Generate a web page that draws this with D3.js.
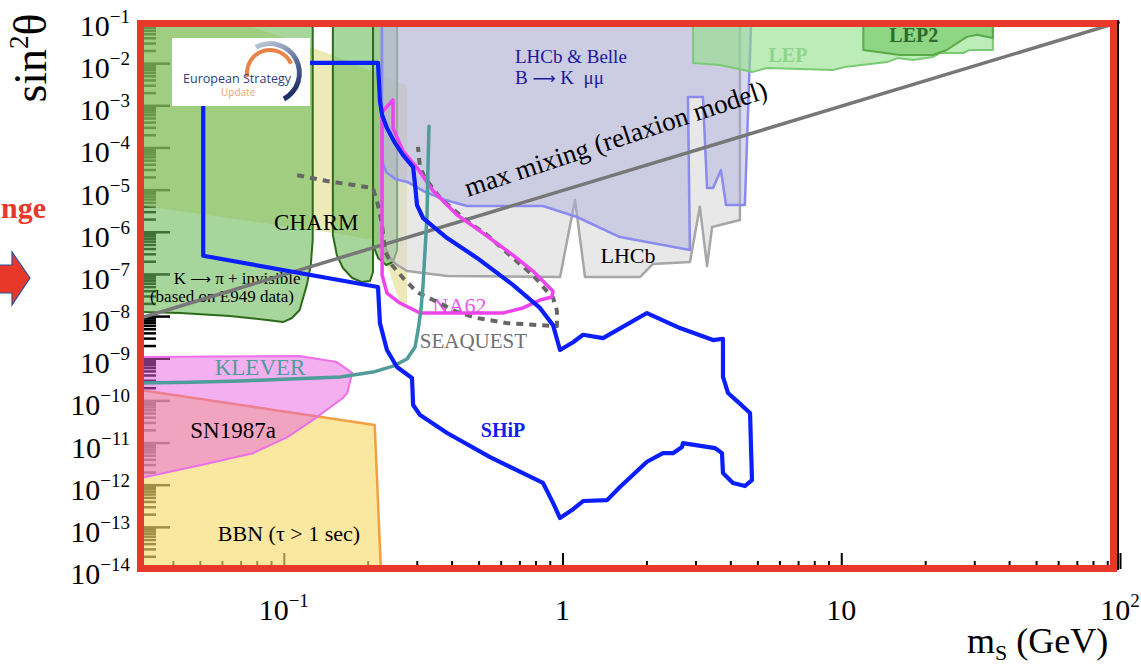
<!DOCTYPE html>
<html>
<head>
<meta charset="utf-8">
<script src="https://cdn.jsdelivr.net/npm/d3@7"></script>
<style>
  body { margin: 0; background: #fff; }
  svg { display: block; }
  text { white-space: pre; }
</style>
</head>
<body>
<svg id="chart" width="1141" height="666"></svg>
<script>
// ---- values: [scalar mass m_S in GeV, mixing sin^2(theta)] ----
const xTickValues = [0.1, 1, 10, 100];
const xTickLabels = [["10", "−1"], ["1", ""], ["10", ""], ["10", "2"]];
const yExponents = d3.range(-1, -15, -1);

const bbnRegion = [[0.03, 1.8e-10], [0.212, 2.6e-11], [0.223, 1e-14], [0.03, 1e-14]];

const sn1987aRegion = [[0.03, 1.07e-9], [0.114, 1.13e-9], [0.155, 8.1e-10], [0.176, 4.5e-10],
  [0.169, 1.5e-10], [0.163, 1.14e-10], [0.127, 3.4e-11], [0.103, 1.35e-11], [0.0776, 5.6e-12],
  [0.0501, 2.9e-12], [0.03, 1.4e-12]];

const e949Region = [[0.03, 0.1], [0.127, 0.1], [0.127, 6.4e-7], [0.125, 1.63e-7], [0.121, 5.5e-8],
  [0.114, 1.39e-8], [0.107, 9.0e-9], [0.0994, 7.2e-9], [0.0871, 8.1e-9], [0.0641, 1.0e-8],
  [0.0425, 1.18e-8], [0.03, 1.25e-8]];

const lsndRegion = [[0.03, 0.1], [0.0668, 0.1], [0.150, 1.56e-2], [0.277, 2.9e-3], [0.277, 1.83e-8],
  [0.266, 1.56e-8], [0.251, 4.2e-8], [0.231, 2.4e-7], [0.209, 6.4e-7], [0.150, 9.4e-7], [0.03, 4.3e-6]];

const charmRegion = [[0.150, 0.1], [0.150, 8.4e-7], [0.155, 2.8e-7], [0.163, 1.38e-7], [0.176, 8.0e-8],
  [0.191, 6.4e-8], [0.204, 6.8e-8], [0.209, 1.11e-7], [0.209, 0.1]];

const charmRegion2 = [[0.209, 0.1], [0.209, 4.9e-7], [0.218, 2.4e-7], [0.233, 1.63e-7],
  [0.2465, 1.92e-7], [0.255, 3.7e-7], [0.255, 0.1]];

const lhcbRegion = [[0.225, 0.1], [0.225, 6.4e-7], [0.240, 2.4e-7], [0.255, 1.63e-7], [0.277, 1.17e-7],
  [0.386, 8.9e-8], [0.98, 8.5e-8], [1.109, 5.7e-6], [1.204, 8.5e-8], [1.90, 8.5e-8], [2.11, 1.72e-7],
  [2.865, 1.92e-7], [3.11, 3.9e-6], [3.30, 1.54e-7], [3.44, 1.30e-6], [4.33, 1.90e-6], [4.33, 0.1]];

const bKmumuRegion = [[0.225, 0.1], [0.225, 5.0e-5], [0.233, 2.6e-5], [0.251, 1.79e-5], [0.277, 1.52e-5],
  [0.321, 8.8e-6], [0.379, 5.7e-6], [0.454, 4.1e-6], [0.851, 4.1e-6], [1.127, 2.24e-6], [1.607, 7.5e-7],
  [2.865, 3.7e-7], [2.818, 1.57e-3], [3.19, 1.57e-3], [3.30, 1.09e-5], [3.47, 1.09e-5], [3.70, 2.9e-5],
  [3.86, 4.3e-6], [4.51, 4.3e-6], [4.75, 0.1]];

const lepRegion = [[2.94, 0.1], [2.94, 1.01e-2], [3.67, 9.0e-3], [4.82, 6.2e-3], [5.41, 7.7e-3],
  [9.34, 6.9e-3], [10.3, 8.1e-3], [14.6, 1.06e-2], [15.9, 1.32e-2], [18.1, 1.19e-2], [21.3, 1.40e-2],
  [22.6, 1.74e-2], [27.3, 1.74e-2], [28.9, 2.05e-2], [35.0, 2.05e-2], [35.0, 0.1]];

const lep2Region = [[12.0, 0.1], [12.0, 2.05e-2], [16.25, 1.56e-2], [21.3, 1.56e-2], [23.9, 2.05e-2],
  [28.2, 4.2e-2], [30.7, 4.7e-2], [35.0, 3.95e-2], [35.0, 0.1]];

const maxMixing = [[0.03, 8.6e-9], [100, 9.5e-2]];

const seaquestReach = [[0.1117, 2.2e-5], [0.1429, 1.6e-5], [0.2089, 1.09e-5], [0.2178, 4.3e-6],
  [0.2253, 1.45e-6], [0.2307, 3.5e-7], [0.2443, 1.63e-7], [0.2679, 8.0e-8], [0.3006, 3.7e-8],
  [0.3436, 2.4e-8], [0.4188, 1.25e-8], [0.4932, 9.0e-9], [0.6324, 6.8e-9], [0.830, 6.1e-9],
  [0.955, 5.8e-9], [0.955, 1.32e-8], [0.925, 2.7e-8], [0.879, 3.9e-8], [0.783, 9.4e-8],
  [0.664, 2.4e-7], [0.536, 8.4e-7], [0.454, 1.8e-6], [0.364, 6.3e-6], [0.321, 1.89e-5],
  [0.308, 3.4e-5], [0.303, 1.03e-4]];

const na62Reach = [[0.2465, 1.34e-3], [0.2465, 2.9e-4], [0.268, 8.2e-5], [0.3006, 3.3e-5],
  [0.3436, 9.3e-6], [0.4188, 2.5e-6], [0.506, 1.04e-6], [0.664, 2.8e-7], [0.783, 1.17e-7],
  [0.925, 3.9e-8], [0.916, 2.84e-8], [0.830, 2.4e-8], [0.721, 1.56e-8], [0.6115, 1.18e-8],
  [0.308, 1.18e-8], [0.261, 2.04e-8], [0.2345, 3.5e-8], [0.2253, 9.4e-8], [0.2253, 6.9e-4]];

const kleverReach = [[0.031, 2.6e-10], [0.0461, 2.7e-10], [0.0697, 2.9e-10], [0.1054, 3.2e-10],
  [0.159, 3.6e-10], [0.209, 4.7e-10], [0.2465, 6.5e-10], [0.2768, 9.6e-10], [0.2958, 1.85e-9],
  [0.3033, 4.7e-9], [0.3105, 1.39e-8], [0.316, 5.5e-8], [0.3213, 3.7e-7], [0.3266, 2.5e-6],
  [0.3289, 2.9e-5], [0.3319, 3.2e-4]];

const shipReach = [[0.0514, 1.01e-2], [0.2178, 1.01e-2], [0.2213, 1.26e-3], [0.2253, 5.9e-4],
  [0.2345, 2.9e-4], [0.2506, 1.28e-4], [0.2679, 6.6e-5], [0.2911, 3.4e-5], [0.2958, 1.28e-5],
  [0.3006, 4.3e-6], [0.316, 2.12e-6], [0.3855, 7.1e-7], [0.4932, 2.4e-7], [0.6637, 5.5e-8],
  [0.8299, 1.56e-8], [0.9247, 6.1e-9], [0.9795, 1.57e-9], [1.091, 2.4e-9], [1.185, 3.6e-9],
  [1.397, 3.0e-9], [2.009, 1.18e-8], [2.638, 5.2e-9], [3.467, 2.7e-9], [3.764, 2.9e-9],
  [3.764, 3.6e-10], [3.923, 1.5e-10], [4.258, 9.2e-11], [4.707, 5.0e-11], [4.783, 1.29e-12],
  [4.514, 9.3e-13], [4.086, 1.10e-12], [3.764, 1.89e-12], [3.733, 5.6e-12], [3.524, 7.4e-12],
  [2.704, 9.7e-12], [2.683, 7.8e-12], [2.49, 5.6e-12], [2.293, 5.6e-12], [2.009, 3.5e-12],
  [1.607, 8.8e-13], [1.445, 4.3e-13], [1.185, 4.1e-13], [1.081, 2.5e-13], [0.9795, 1.62e-13],
  [0.9247, 3.7e-13], [0.8511, 1.10e-12], [0.7211, 1.89e-12], [0.5495, 4.5e-12], [0.3855, 1.68e-11],
  [0.3083, 4.5e-11], [0.2911, 7.8e-11], [0.2884, 3.4e-10], [0.2547, 6.2e-10], [0.2345, 1.57e-9],
  [0.2213, 6.8e-9], [0.2178, 4.9e-8], [0.0514, 2.7e-7]];

// label anchors, in the same units
const regionLabels = [
  { key: "charm", text: "CHARM", m: 0.1308, s: 1.10e-6 },
  { key: "kpi", text: "K → π + invisible", m: 0.068, s: 5.8e-8 },
  { key: "kpi", text: "(based on E949 data)", m: 0.060, s: 2.16e-8 },
  { key: "belle", text: "LHCb & Belle", m: 0.675, s: 1.0e-2 },
  { key: "belle", text: "B → K  μμ", m: 0.675, s: 3.2e-3 },
  { key: "lep", text: "LEP", m: 6.44, s: 1.07e-2 },
  { key: "lep2", text: "LEP2", m: 18.2, s: 3.2e-2 },
  { key: "lhcb", text: "LHCb", m: 1.718, s: 1.82e-7 },
  { key: "na62", text: "NA62", m: 0.427, s: 1.18e-8 },
  { key: "seaquest", text: "SEAQUEST", m: 0.479, s: 1.75e-9 },
  { key: "ship", text: "SHiP", m: 0.612, s: 1.35e-11 },
  { key: "klever", text: "KLEVER", m: 0.0822, s: 4.0e-10 },
  { key: "sn", text: "SN1987a", m: 0.0658, s: 1.28e-11 },
  { key: "bbn", text: "BBN (τ > 1 sec)", m: 0.1044, s: 4.6e-14 }
];
const mixingLabel = { text: "max mixing (relaxion model)", m: 0.458, s: 6.7e-6 };

// ---- drawing ----
const SERIF = "'Liberation Serif', 'Times New Roman', serif";
const svg = d3.select("#chart");
const x = d3.scaleLog().domain([0.031, 100]).range([142, 1120]);
const y = d3.scaleLog().domain([1e-14, 1e-1]).range([569, 21]);
const line = d3.line().x(d => x(d[0])).y(d => y(d[1]));
const [x0, x1] = x.range();
const [y0, y1] = y.range();

const defs = svg.append("defs");
defs.append("clipPath").attr("id", "plotClip")
  .append("rect").attr("x", x0).attr("y", y1).attr("width", x1 - x0).attr("height", y0 - y1);
const ringGrad = defs.append("linearGradient").attr("id", "ringGrad")
  .attr("x1", 0).attr("y1", 0).attr("x2", 0.3).attr("y2", 1);
ringGrad.append("stop").attr("offset", "0%").attr("stop-color", "#c9d1de");
ringGrad.append("stop").attr("offset", "55%").attr("stop-color", "#5a6c98");
ringGrad.append("stop").attr("offset", "100%").attr("stop-color", "#1f2f68");

// inward log ticks
const yMinor = [];
for (let e = -14; e < -1; e++) for (let k = 2; k <= 9; k++) yMinor.push(k * Math.pow(10, e));
const yMajor = yExponents.map(e => Math.pow(10, e));
const xMinor = [];
for (let e = -2; e < 2; e++) for (let k = 2; k <= 9; k++) {
  const v = k * Math.pow(10, e);
  if (v > 0.031 && v < 100) xMinor.push(v);
}
const tickStyle = (w) => g => {
  g.select(".domain").remove();
  g.selectAll(".tick line").attr("stroke", "#000").attr("stroke-width", w);
};
svg.append("g").attr("transform", `translate(${x0},0)`)
  .call(d3.axisLeft(y).tickValues(yMinor).tickSize(-14).tickFormat(""))
  .call(tickStyle(2.5));
svg.append("g").attr("transform", `translate(${x0},0)`)
  .call(d3.axisLeft(y).tickValues(yMajor).tickSize(-28).tickFormat(""))
  .call(tickStyle(2.5));
svg.append("g").attr("transform", `translate(0,${y0})`)
  .call(d3.axisBottom(x).tickValues(xMinor).tickSize(-8).tickFormat(""))
  .call(tickStyle(2));
svg.append("g").attr("transform", `translate(0,${y0})`)
  .call(d3.axisBottom(x).tickValues(xTickValues).tickSize(-16).tickFormat(""))
  .call(tickStyle(2));

// excluded regions
const plot = svg.append("g").attr("clip-path", "url(#plotClip)");
const regions = [
  { data: bbnRegion, fill: "#f7dc6f", op: 0.65, stroke: "#f0a040", sw: 2.5 },
  { data: lsndRegion, fill: "#d8d060", op: 0.45, stroke: "none", sw: 0 },
  { data: e949Region, fill: "#6cba5c", op: 0.6, stroke: "#2d6b1b", sw: 2 },
  { data: charmRegion, fill: "#6cba5c", op: 0.6, stroke: "#2d6b1b", sw: 2 },
  { data: charmRegion2, fill: "#5fae58", op: 0.6, stroke: "#2d6b1b", sw: 2 },
  { data: sn1987aRegion, fill: "#e860e0", op: 0.5, stroke: "#ee70e8", sw: 2 },
  { data: lhcbRegion, fill: "#d6d6d6", op: 0.55, stroke: "#a6a6a6", sw: 2.5 },
  { data: bKmumuRegion, fill: "#ababdb", op: 0.45, stroke: "#8a8af0", sw: 2.5 },
  { data: lepRegion, fill: "#90e088", op: 0.6, stroke: "#7acb74", sw: 2 },
  { data: lep2Region, fill: "#60c050", op: 0.5, stroke: "#5aaa4a", sw: 2 }
];
plot.selectAll("path.region").data(regions).join("path")
  .attr("class", "region")
  .attr("d", d => line(d.data) + "Z")
  .attr("fill", d => d.fill).attr("fill-opacity", d => d.op)
  .attr("stroke", d => d.stroke).attr("stroke-width", d => d.sw)
  .attr("stroke-linejoin", "round");

// region labels (arrows drawn with a long arrow glyph)
const labelStyle = {
  charm: { size: 23, color: "#000", weight: "normal", anchor: "middle" },
  kpi: { size: 17, color: "#000", weight: "normal", anchor: "middle" },
  belle: { size: 19, color: "#1a1a9a", weight: "normal", anchor: "start" },
  lep: { size: 20, color: "#8fd48a", weight: "bold", anchor: "middle" },
  lep2: { size: 20, color: "#2f6a2a", weight: "bold", anchor: "middle" },
  lhcb: { size: 22, color: "#000", weight: "normal", anchor: "middle" },
  na62: { size: 22, color: "#ee55ee", weight: "normal", anchor: "middle" },
  seaquest: { size: 21, color: "#707070", weight: "normal", anchor: "middle" },
  ship: { size: 20, color: "#1020f0", weight: "bold", anchor: "middle" },
  klever: { size: 23, color: "#4f9c9a", weight: "normal", anchor: "middle" },
  sn: { size: 23, color: "#000", weight: "normal", anchor: "middle" },
  bbn: { size: 22, color: "#000", weight: "normal", anchor: "middle" }
};
svg.append("g").attr("font-family", SERIF)
  .selectAll("text").data(regionLabels).join("text")
  .attr("x", d => x(d.m)).attr("y", d => y(d.s))
  .attr("text-anchor", d => labelStyle[d.key].anchor)
  .attr("font-size", d => labelStyle[d.key].size)
  .attr("font-weight", d => labelStyle[d.key].weight)
  .attr("fill", d => labelStyle[d.key].color)
  .each(function (d) {
    const parts = d.text.split("→");
    const t = d3.select(this);
    parts.forEach((p, i) => {
      if (i > 0) t.append("tspan").attr("font-family", "'DejaVu Sans', sans-serif")
        .attr("font-size", labelStyle[d.key].size * 0.85).text("⟶");
      t.append("tspan").text(p);
    });
  });

svg.append("text")
  .attr("transform", `translate(${x(mixingLabel.m)},${y(mixingLabel.s)}) rotate(-18.3)`)
  .attr("font-family", SERIF).attr("font-size", 27).attr("fill", "#000")
  .text(mixingLabel.text);

// sensitivity curves
const curves = svg.append("g").attr("clip-path", "url(#plotClip)").attr("fill", "none")
  .attr("stroke-linejoin", "round").attr("stroke-linecap", "round");
curves.append("path").attr("d", line(maxMixing)).attr("stroke", "#777").attr("stroke-width", 3.5);
curves.append("path").attr("d", line(seaquestReach)).attr("stroke", "#666").attr("stroke-width", 4)
  .attr("stroke-dasharray", "7,6").attr("stroke-linecap", "butt");
curves.append("path").attr("d", line(na62Reach) + "Z").attr("stroke", "#ee44ee").attr("stroke-width", 3.5);
curves.append("path").attr("d", line(kleverReach)).attr("stroke", "#4f9c9a").attr("stroke-width", 3.5);
curves.append("path").attr("d", line(shipReach) + "Z").attr("stroke", "#0a1eff").attr("stroke-width", 4.2);

// logo panel
const logo = svg.append("g").attr("transform", "translate(172,38)");
logo.append("rect").attr("width", 138).attr("height", 68).attr("fill", "#fff");
const arc = d3.arc();
logo.append("path").attr("transform", "translate(98,35)")
  .attr("d", arc({ innerRadius: 21, outerRadius: 25, startAngle: -1.75, endAngle: 1.15 }))
  .attr("fill", "#e8834a");
logo.append("path").attr("transform", "translate(98,35)")
  .attr("d", arc({ innerRadius: 27, outerRadius: 32, startAngle: -0.5, endAngle: 2.65 }))
  .attr("fill", "url(#ringGrad)");
logo.append("text").attr("x", 11).attr("y", 45)
  .attr("font-family", "'Open Sans', sans-serif").attr("font-size", 12.5)
  .attr("textLength", 108).attr("fill", "#2d3f7c").text("European Strategy");
logo.append("text").attr("x", 49).attr("y", 58)
  .attr("font-family", "'Open Sans', sans-serif").attr("font-size", 10)
  .attr("fill", "#f0a37a").text("Update");

// axes frame and highlight frame
svg.append("rect").attr("x", x0).attr("y", y1).attr("width", x1 - x0 - 2).attr("height", y0 - y1)
  .attr("fill", "none").attr("stroke", "#000").attr("stroke-width", 2);
svg.append("rect").attr("x", x0 - 1.5).attr("y", y1 + 2.5).attr("width", x1 - x0 - 5)
  .attr("height", y0 - y1 - 3).attr("fill", "none").attr("stroke", "#e8382a").attr("stroke-width", 7);

// tick labels
const yl = svg.append("g").attr("font-family", SERIF).attr("font-size", 30).attr("fill", "#000");
yExponents.forEach(e => {
  const t = yl.append("text").attr("x", 130).attr("y", y(Math.pow(10, e)) + 15).attr("text-anchor", "end");
  t.append("tspan").text("10");
  t.append("tspan").attr("dy", -13).attr("font-size", 19).text("−" + (-e));
});
const xl = svg.append("g").attr("font-family", SERIF).attr("font-size", 30).attr("fill", "#000");
xTickValues.forEach((v, i) => {
  const t = xl.append("text").attr("x", x(v)).attr("y", 620).attr("text-anchor", "middle");
  t.append("tspan").text(xTickLabels[i][0]);
  if (xTickLabels[i][1]) t.append("tspan").attr("dy", -13).attr("font-size", 19).text(xTickLabels[i][1]);
});

// axis titles
const yt = svg.append("text").attr("transform", "translate(46,58) rotate(-90)")
  .attr("text-anchor", "middle").attr("font-family", SERIF).attr("font-size", 46);
yt.append("tspan").text("sin");
yt.append("tspan").attr("dy", -18).attr("font-size", 27).text("2");
yt.append("tspan").attr("dy", 18).text("θ");

const xt = svg.append("text").attr("x", 967).attr("y", 653)
  .attr("font-family", SERIF).attr("font-size", 36);
xt.append("tspan").text("m");
xt.append("tspan").attr("dy", 7).attr("font-size", 22).text("S");
xt.append("tspan").attr("dy", -7).text(" (GeV)");

// slide fragments at the left
svg.append("text").attr("x", 46).attr("y", 218).attr("text-anchor", "end")
  .attr("font-family", SERIF).attr("font-weight", "bold").attr("font-size", 30)
  .attr("fill", "#e8382a").text("nge");
svg.append("path")
  .attr("d", "M-10,265 L12,265 L12,252 L30,278 L12,305 L12,293 L-10,293 Z")
  .attr("fill", "#e8382a").attr("stroke", "#2e4f9a").attr("stroke-width", 1.2);
</script>
</body>
</html>
